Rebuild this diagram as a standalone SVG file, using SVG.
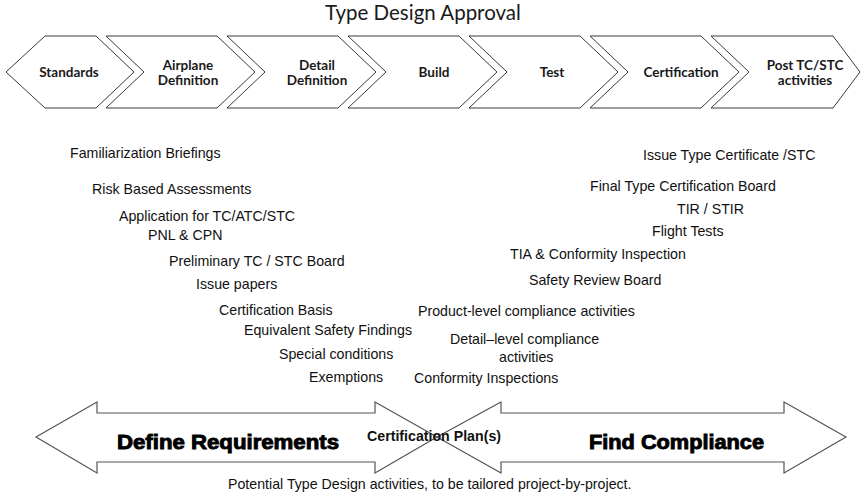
<svg xmlns="http://www.w3.org/2000/svg" width="861" height="503" viewBox="0 0 861 503">
  <style>
    .phase { fill: #ffffff; stroke: #3a3a3a; stroke-width: 1; stroke-linejoin: miter; }
    .plabel { font-family: Lato, "Open Sans", sans-serif; font-weight: bold; font-size: 13.5px; fill: #1a1a1a; text-anchor: middle; }
    .title { font-family: Lato, "Open Sans", sans-serif; font-size: 20.5px; fill: #1a1a1a; text-anchor: middle; }
    .act { font-family: "Liberation Sans", Arial, sans-serif; font-size: 14.2px; fill: #111111; }
    .big { fill: #ffffff; stroke: #555555; stroke-width: 1.2; stroke-linejoin: miter; }
    .bigtext { font-family: "Liberation Sans", Arial, sans-serif; font-weight: bold; font-size: 20px; fill: #000000; stroke: #000000; stroke-width: 0.9; }
    .note { font-family: "Liberation Sans", Arial, sans-serif; font-size: 14.2px; fill: #111111; }
  </style>

  <rect width="861" height="503" fill="#ffffff"/>

  <text class="title" x="423" y="20">Type Design Approval</text>

  <!-- process phases along the top band -->
  <g id="phase-standards">
    <polygon class="phase" points="45,36 96,36 134,72 96,108 45,108 6,72"/>
    <text class="plabel" x="69" y="77">Standards</text>
  </g>
  <g id="phase-airplane-definition">
    <polygon class="phase" points="106,36 217,36 255,72 217,108 106,108 144,72"/>
    <text class="plabel" x="188" y="70">Airplane</text>
    <text class="plabel" x="188" y="85">Definition</text>
  </g>
  <g id="phase-detail-definition">
    <polygon class="phase" points="227,36 338,36 376,72 338,108 227,108 265,72"/>
    <text class="plabel" x="317" y="70">Detail</text>
    <text class="plabel" x="317" y="85">Definition</text>
  </g>
  <g id="phase-build">
    <polygon class="phase" points="348,36 459,36 497,72 459,108 348,108 386,72"/>
    <text class="plabel" x="434" y="77">Build</text>
  </g>
  <g id="phase-test">
    <polygon class="phase" points="469,36 580,36 618,72 580,108 469,108 507,72"/>
    <text class="plabel" x="552" y="77">Test</text>
  </g>
  <g id="phase-certification">
    <polygon class="phase" points="590,36 701,36 739,72 701,108 590,108 628,72"/>
    <text class="plabel" x="681" y="77">Certification</text>
  </g>
  <g id="phase-post">
    <polygon class="phase" points="711,36 833,36 860,72 833,108 711,108 749,72"/>
    <text class="plabel" x="805" y="70">Post TC/STC</text>
    <text class="plabel" x="805" y="85">activities</text>
  </g>

  <!-- requirement-definition activities -->
  <g id="activities-define">
    <text class="act" x="70" y="158">Familiarization Briefings</text>
    <text class="act" x="92" y="194">Risk Based Assessments</text>
    <text class="act" x="119" y="221">Application for TC/ATC/STC</text>
    <text class="act" x="148" y="240">PNL &amp; CPN</text>
    <text class="act" x="169" y="266">Preliminary TC / STC Board</text>
    <text class="act" x="196" y="289">Issue papers</text>
    <text class="act" x="219" y="315">Certification Basis</text>
    <text class="act" x="244" y="335">Equivalent Safety Findings</text>
    <text class="act" x="279" y="359">Special conditions</text>
    <text class="act" x="309" y="382">Exemptions</text>
  </g>

  <!-- compliance-finding activities -->
  <g id="activities-comply">
    <text class="act" x="643" y="160">Issue Type Certificate /STC</text>
    <text class="act" x="590" y="191">Final Type Certification Board</text>
    <text class="act" x="677" y="214">TIR / STIR</text>
    <text class="act" x="652" y="236">Flight Tests</text>
    <text class="act" x="510" y="259">TIA &amp; Conformity Inspection</text>
    <text class="act" x="529" y="285">Safety Review Board</text>
    <text class="act" x="418" y="316">Product-level compliance activities</text>
    <text class="act" x="450" y="344">Detail–level compliance</text>
    <text class="act" x="499" y="362">activities</text>
    <text class="act" x="414" y="383">Conformity Inspections</text>
  </g>

  <!-- the two double-headed arrows meeting at the certification plan -->
  <g id="connectors">
    <polygon class="big" points="36,437 97,402 97,413 375,413 375,402 437,437 375,473 375,462 97,462 97,473"/>
    <polygon class="big" points="437,437 501,402 501,413 784,413 784,402 846,437 784,473 784,462 501,462 501,473"/>
  </g>

  <g id="label-define">
    <text class="bigtext" x="117" y="449" textLength="222" lengthAdjust="spacingAndGlyphs">Define Requirements</text>
  </g>
  <g id="label-comply">
    <text class="bigtext" x="589" y="449" textLength="175" lengthAdjust="spacingAndGlyphs">Find Compliance</text>
  </g>
  <g id="label-plan">
    <text class="act" x="367" y="441" font-weight="bold">Certification Plan(s)</text>
  </g>

  <text class="note" x="228" y="489">Potential Type Design activities, to be tailored project-by-project.</text>
</svg>
